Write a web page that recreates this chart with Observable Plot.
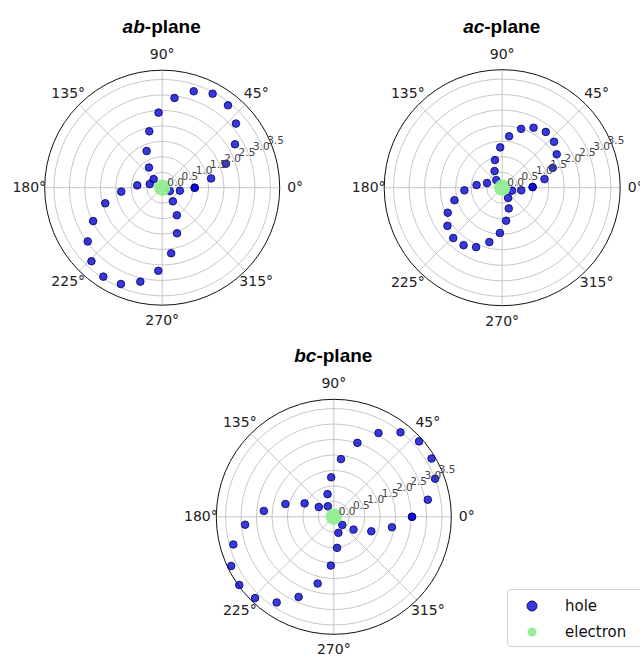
<!DOCTYPE html>
<html><head><meta charset="utf-8">
<script src="https://cdn.jsdelivr.net/npm/d3@7"></script>
<script src="https://cdn.jsdelivr.net/npm/@observablehq/plot@0.6"></script>
<style>
body{margin:0;background:#fff;}
#page{position:relative;width:640px;height:657px;overflow:hidden;background:#fff;font-family:"DejaVu Sans",sans-serif;}
#page svg.layer{position:absolute;left:0;top:0;}
.title{position:absolute;font-family:"Liberation Sans",Arial,sans-serif;font-weight:bold;font-size:19px;line-height:19px;transform:translateX(-50%);white-space:nowrap;color:#000;}
#legend{position:absolute;left:507px;top:589px;width:150px;height:58px;border:1px solid #d0d0d0;border-radius:4px;box-sizing:border-box;background:#fff;font-family:"DejaVu Sans",sans-serif;font-size:15px;color:#111;}
#legend .item{position:absolute;left:0;height:20px;display:flex;align-items:center;}
#legend svg{margin-left:17px;margin-right:26px;}
</style></head><body>
<div id="page"></div>
<script>
// ---- data (angles in degrees, radius in data units) ----
const abTheta = [82.2, 71.9, 61.8, 51.4, 41.0, 30.8, 20.6, 10.7, 0, 360, 350.4, 336.5, 308, 298, 288, 277.8, 267.3, 256.9, 246.8, 236.5, 226.1, 215.8, 205.8, 195.3, 185.5, 174.7, 163.9, 135, 123.3, 113, 102.9, 92.8];
const abR     = [2.93, 3.28, 3.45, 3.41, 3.16, 2.74, 2.20, 1.61, 1.05, 1.05, 0.58, 0.27, 0.56, 1.01, 1.55, 2.14, 2.69, 3.12, 3.39, 3.45, 3.30, 2.97, 2.48, 1.91, 1.33, 0.81, 0.42, 0.39, 0.78, 1.29, 1.87, 2.43];

const acTheta = [72.2, 62.4, 52.0, 41.5, 31.5, 21.4, 11.5, 1.2, 361.2, 352.1, 343.3, 300.1, 287.6, 276.8, 267.1, 256.7, 246.3, 236.1, 225.8, 214.9, 204.7, 194.7, 184.0, 174.1, 163.1, 128, 114.7, 104.7, 92.8, 82.3];
const acR     = [1.99, 2.18, 2.28, 2.23, 2.06, 1.75, 1.39, 0.98, 0.98, 0.62, 0.33, 0.38, 0.70, 1.07, 1.46, 1.80, 2.09, 2.23, 2.26, 2.15, 1.93, 1.59, 1.22, 0.83, 0.51, 0.31, 0.59, 0.92, 1.30, 1.67];

const bcTheta = [82.9, 72.3, 61.9, 51.7, 41.5, 30.8, 20.6, 10.3, 0, 360, 349.8, 338.9, 327, 316.1, 286, 276, 266.5, 256.4, 246.3, 236.3, 225.9, 215.8, 205.6, 195.4, 185.1, 175.2, 165.2, 155.3, 146.9, 119.4, 105.4, 93.8];
const bcR     = [1.88, 2.51, 3.07, 3.48, 3.68, 3.68, 3.50, 3.09, 2.53, 2.53, 1.91, 1.30, 0.76, 0.38, 0.54, 1.01, 1.58, 2.22, 2.83, 3.33, 3.66, 3.77, 3.68, 3.37, 2.88, 2.27, 1.62, 1.04, 0.58, 0.39, 0.76, 1.28];

const electronTheta = [0];
const electronR = [0];

const ringValues = [0.5, 1.0, 1.5, 2.0, 2.5, 3.0, 3.5];
const rTickValues = [0, 0.5, 1.0, 1.5, 2.0, 2.5, 3.0, 3.5];
const rTickLabels = ["0.0", "0.5", "1.0", "1.5", "2.0", "2.5", "3.0", "3.5"];
const spokeAngles = [0, 45, 90, 135, 180, 225, 270, 315];
const thetaLabels = ["0°", "45°", "90°", "135°", "180°", "225°", "270°", "315°"];
const planeNames = [["ab", "-plane"], ["ac", "-plane"], ["bc", "-plane"]];
const legendLabels = ["hole", "electron"];

const rMax = 3.8;
const rLabelAngle = 22.5;
const thetaLabelR = 4.3;
const holeFill = "#0000d6", holeOpacity = 0.78, holeStroke = "#000060";
const electronFill = "#90ee90";

const rad = a => a * Math.PI / 180;

const panels = [
  {theta: abTheta, r: abR, cx: 161.7, cy: 187.2, R: 117.5, titleY: 17},
  {theta: acTheta, r: acR, cx: 501.7, cy: 187.2, R: 118, titleY: 17},
  {theta: bcTheta, r: bcR, cx: 333.3, cy: 516.3, R: 117.5, titleY: 346}
];

const page = document.getElementById("page");

panels.forEach((p, k) => {
  const holes = p.theta.map((t, i) => ({t, r: p.r[i]}));
  const electrons = electronTheta.map((t, i) => ({t, r: electronR[i]}));
  const svg = Plot.plot({
    width: 640, height: 657, margin: 0,
    style: {background: "transparent", fontFamily: "DejaVu Sans, sans-serif", overflow: "visible"},
    x: {domain: [-rMax, rMax], range: [p.cx - p.R, p.cx + p.R], axis: null},
    y: {domain: [-rMax, rMax], range: [p.cy + p.R, p.cy - p.R], axis: null},
    r: {type: "linear", domain: [0, rMax], range: [0, p.R]},
    marks: [
      Plot.dot(ringValues, {x: () => 0, y: () => 0, r: d => d, fill: "none", stroke: "#b8b8b8", strokeWidth: 0.8}),
      Plot.link(spokeAngles, {x1: () => 0, y1: () => 0, x2: a => rMax * Math.cos(rad(a)), y2: a => rMax * Math.sin(rad(a)), stroke: "#b8b8b8", strokeWidth: 0.8}),
      Plot.dot([rMax], {x: () => 0, y: () => 0, r: d => d, fill: "none", stroke: "#111", strokeWidth: 1}),
      Plot.dot(holes, {x: d => d.r * Math.cos(rad(d.t)), y: d => d.r * Math.sin(rad(d.t)), r: 3.8, fill: holeFill, fillOpacity: holeOpacity, stroke: holeStroke, strokeWidth: 0.8}),
      Plot.dot(electrons, {x: d => d.r * Math.cos(rad(d.t)), y: d => d.r * Math.sin(rad(d.t)), r: 8.2, fill: electronFill, fillOpacity: 0.95}),
      Plot.text(rTickValues, {x: v => v * Math.cos(rad(rLabelAngle)), y: v => v * Math.sin(rad(rLabelAngle)), text: (v, i) => rTickLabels[i], textAnchor: "start", lineAnchor: "bottom", dx: 5, dy: -2, fontSize: 10.5, fill: "#444"}),
      Plot.text(spokeAngles, {x: a => thetaLabelR * Math.cos(rad(a)), y: a => thetaLabelR * Math.sin(rad(a)), text: (a, i) => thetaLabels[i], fontSize: 14, fill: "#222"})
    ]
  });
  svg.classList.add("layer");
  page.appendChild(svg);

  const t = document.createElement("div");
  t.className = "title";
  t.style.left = p.cx + "px";
  t.style.top = p.titleY + "px";
  const it = document.createElement("i");
  it.textContent = planeNames[k][0];
  t.appendChild(it);
  t.appendChild(document.createTextNode(planeNames[k][1]));
  page.appendChild(t);
});

// legend
const legend = document.createElement("div");
legend.id = "legend";
const legendStyles = [
  {fill: holeFill, op: holeOpacity, stroke: holeStroke, r: 5, top: 6},
  {fill: electronFill, op: 0.95, stroke: "none", r: 4.5, top: 32}
];
legendLabels.forEach((lab, i) => {
  const s = legendStyles[i];
  const item = document.createElement("div");
  item.className = "item";
  item.style.top = s.top + "px";
  item.innerHTML = `<svg width="14" height="14"><circle cx="7" cy="7" r="${s.r}" fill="${s.fill}" fill-opacity="${s.op}" stroke="${s.stroke}" stroke-width="0.9"/></svg><span>${lab}</span>`;
  legend.appendChild(item);
});
page.appendChild(legend);
</script>
</body></html>
